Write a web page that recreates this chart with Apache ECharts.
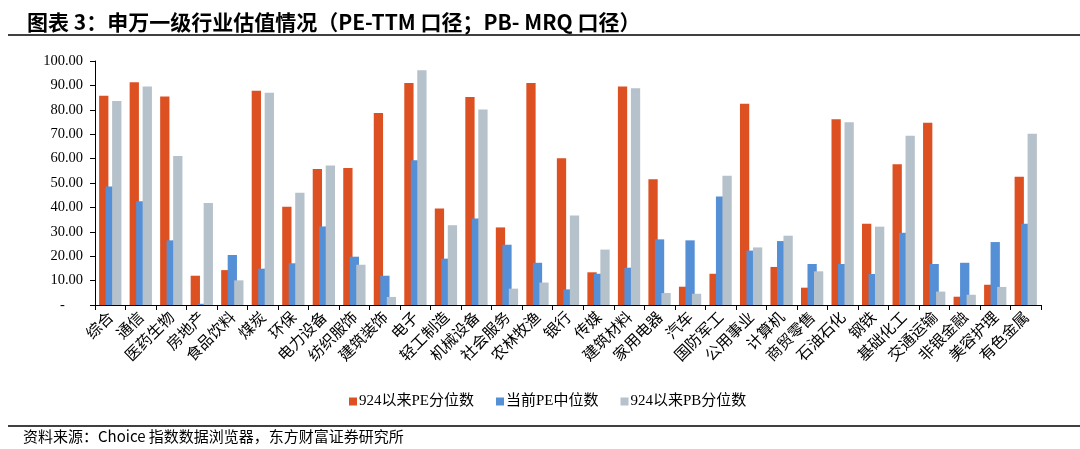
<!DOCTYPE html>
<html>
<head>
<meta charset="utf-8">
<script src="https://cdn.jsdelivr.net/npm/echarts@6/dist/echarts.min.js"></script>
<style>
html,body{margin:0;padding:0;background:#fff;}
#c{width:1080px;height:449px;}
</style>
</head>
<body>
<div id="c"></div>
<script>
const categories = ['综合','通信','医药生物','房地产','食品饮料','煤炭','环保','电力设备','纺织服饰','建筑装饰','电子','轻工制造','机械设备','社会服务','农林牧渔','银行','传媒','建筑材料','家用电器','汽车','国防军工','公用事业','计算机','商贸零售','石油石化','钢铁','基础化工','交通运输','非银金融','美容护理','有色金属'];
const pePercentile = [85.8,91.3,85.5,12.0,14.3,87.8,40.3,55.7,56.1,78.7,91.0,39.5,85.2,31.8,91.0,60.1,13.4,89.6,51.5,7.5,12.8,82.5,15.6,7.1,76.1,33.3,57.7,74.7,3.4,8.3,52.6];
const peMedian = [48.6,42.5,26.5,0.5,20.5,14.9,17.1,32.2,19.8,12.0,59.3,19.0,35.4,24.7,17.3,6.4,12.8,15.3,26.9,26.5,44.5,22.3,26.2,16.8,16.8,12.7,29.6,16.8,17.3,25.8,33.3];
const pbPercentile = [83.6,89.6,61.1,41.8,10.1,87.0,46.0,57.2,16.5,3.3,96.2,32.7,80.1,6.7,9.2,36.7,22.7,88.8,4.9,4.6,53.0,23.6,28.4,13.8,74.9,32.1,69.4,5.5,4.2,7.4,70.2];
const seriesNames = ['924以来PE分位数','当前PE中位数','924以来PB分位数'];
const yTicks = {min:0, max:100, interval:10};

const serif = 'Liberation Serif, "Times New Roman", "Noto Sans CJK SC", serif';
const cjk = '"Noto Sans CJK SC", sans-serif';
const colors = ['#DD5022','#5590D6','#B5C1CB'];

const chart = echarts.init(document.getElementById('c'), null, {renderer:'canvas'});
chart.setOption({
  animation:false,
  color: colors,
  title: {
    text: '图表 3：申万一级行业估值情况（PE-TTM 口径；PB- MRQ 口径）',
    left: 22, top: 7,
    textStyle: {fontFamily: cjk, fontSize: 21, fontWeight: 'bold', color: '#000'}
  },
  graphic: [
    {type:'line', shape:{x1:8, y1:35, x2:1080, y2:35}, style:{stroke:'#000', lineWidth:1.5}},
    {type:'line', shape:{x1:8, y1:426, x2:1080, y2:426}, style:{stroke:'#000', lineWidth:1.5}},
    {type:'text', left:23, top:429, style:{text:'资料来源：Choice 指数数据浏览器，东方财富证券研究所', fontFamily: cjk, fontSize:15, fill:'#000'}}
  ],
  legend: {
    data: seriesNames,
    left: 344, top: 389,
    itemWidth: 8, itemHeight: 8, itemGap: 22,
    icon: 'rect',
    textStyle: {fontFamily: serif, fontSize: 15, color:'#000', padding:[0,0,0,-3]}
  },
  grid: {left: 95, right: 39, top: 61, bottom: 144, containLabel:false},
  xAxis: {
    type: 'category',
    data: categories,
    axisLine: {lineStyle:{color:'#000', width:1}},
    axisTick: {show:true, alignWithLabel:false, length:5, lineStyle:{color:'#000'}},
    axisLabel: {rotate:45, interval:0, margin:9, fontFamily: cjk, fontSize:15.5, color:'#000'}
  },
  yAxis: {
    type: 'value',
    min: yTicks.min, max: yTicks.max, interval: yTicks.interval,
    splitLine: {show:false},
    axisLine: {show:true, lineStyle:{color:'#000', width:1}},
    axisTick: {show:true, inside:false, length:5, lineStyle:{color:'#000'}},
    axisLabel: {
      margin: 12, fontFamily: serif, fontSize: 14.5, color:'#000',
      formatter: v => v === 0 ? '-     ' : v.toFixed(2)
    }
  },
  series: [
    {name: seriesNames[0], type:'bar', data: pePercentile, barGap:'-30%', barCategoryGap:'27%', itemStyle:{color:colors[0]}},
    {name: seriesNames[1], type:'bar', data: peMedian, barGap:'-30%', barCategoryGap:'27%', itemStyle:{color:colors[1]}},
    {name: seriesNames[2], type:'bar', data: pbPercentile, barGap:'-30%', barCategoryGap:'27%', itemStyle:{color:colors[2]}}
  ]
});
</script>
</body>
</html>
